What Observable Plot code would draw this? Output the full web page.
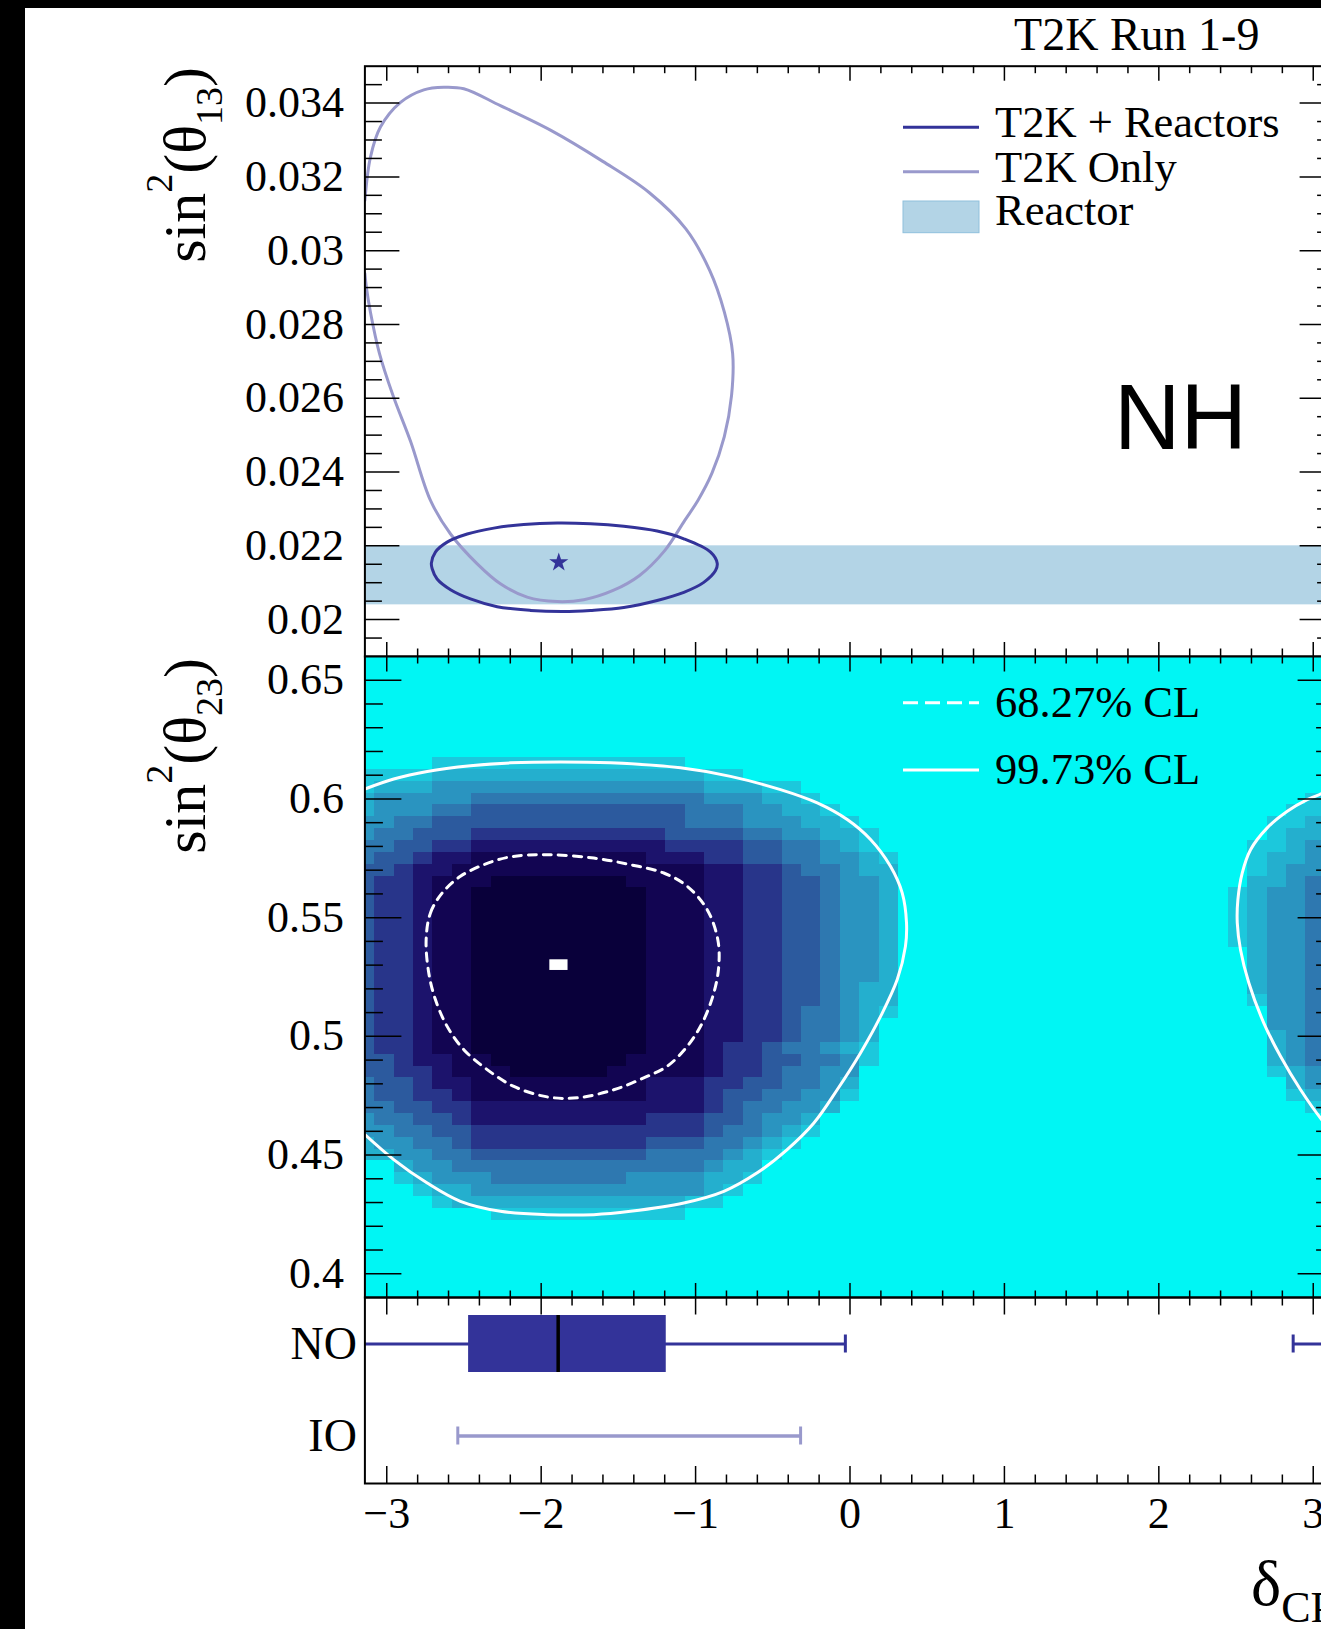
<!DOCTYPE html>
<html>
<head>
<meta charset="utf-8">
<script src="https://cdn.jsdelivr.net/npm/d3@7"></script>
<script src="https://cdn.jsdelivr.net/npm/@observablehq/plot@0.6"></script>
<style>
  html, body { margin: 0; padding: 0; background: #000; width: 1321px; height: 1629px; overflow: hidden; }
  #page { position: absolute; left: 25px; top: 8px; width: 1340px; height: 1621px; background: #fff; }
  #page svg { display: block; max-width: none !important; }
</style>
</head>
<body>
<div id="page"></div>
<script>
const PI = Math.PI;
const serif = "'Liberation Serif', 'Times New Roman', serif";
const sans = "'Liberation Sans', Arial, sans-serif";

// ---------- ticks & labels ----------
const dcpMajor = [-3, -2, -1, 0, 1, 2, 3];
const dcpLabels = ["\u22123", "\u22122", "\u22121", "0", "1", "2", "3"];
const s13Major = [0.02, 0.022, 0.024, 0.026, 0.028, 0.03, 0.032, 0.034];
const s13Labels = ["0.02", "0.022", "0.024", "0.026", "0.028", "0.03", "0.032", "0.034"];
const s23Major = [0.4, 0.45, 0.5, 0.55, 0.6, 0.65];
const s23Labels = ["0.4", "0.45", "0.5", "0.55", "0.6", "0.65"];
const dcpMinor = d3.range(-15, 16).map(k => k / 5).filter(v => Math.abs(v - Math.round(v)) > 1e-9);
const s13Minor = d3.range(39, 70).filter(k => k % 4 !== 0).map(k => k / 2000);
const s23Minor = d3.range(40, 66).filter(k => k % 5 !== 0).map(k => k / 100);

// ---------- top panel: sin^2(theta13) vs dCP ----------
const reactorBand = [0.0204, 0.0220];
const bestFit13 = [-1.886, 0.02155];
const t2kOnly = [[-3.1416,0.03136],[-3.106,0.03253],[-3.041,0.03335],[-2.911,0.03402],[-2.760,0.03436],[-2.631,0.03443],[-2.501,0.03439],[-2.264,0.03393],[-1.937,0.03326],[-1.601,0.03242],[-1.299,0.03157],[-1.063,0.03059],[-0.908,0.02946],[-0.814,0.02834],[-0.760,0.02721],[-0.767,0.02608],[-0.814,0.02496],[-0.894,0.02397],[-0.985,0.02323],[-1.070,0.02269],[-1.200,0.02187],[-1.365,0.02119],[-1.534,0.02079],[-1.724,0.02054],[-1.896,0.02049],[-2.091,0.02061],[-2.264,0.02097],[-2.414,0.02151],[-2.587,0.02232],[-2.717,0.02323],[-2.845,0.02482],[-2.960,0.02608],[-3.047,0.02721],[-3.106,0.02834],[-3.132,0.02901],[-3.1416,0.02938]];
const t2kReactors = [[-2.711,0.02153],[-2.685,0.02183],[-2.609,0.02210],[-2.479,0.02232],[-2.307,0.02248],[-2.113,0.02258],[-1.896,0.02262],[-1.681,0.02260],[-1.465,0.02253],[-1.249,0.02240],[-1.076,0.02219],[-0.903,0.02183],[-0.860,0.02153],[-0.871,0.02133],[-0.947,0.02101],[-1.076,0.02074],[-1.249,0.02052],[-1.465,0.02033],[-1.681,0.02025],[-1.854,0.02022],[-2.069,0.02025],[-2.285,0.02035],[-2.458,0.02056],[-2.587,0.02081],[-2.674,0.02110],[-2.706,0.02138]];

// ---------- middle panel: sin^2(theta23) vs dCP ----------
const cl68 = [[-2.745,0.5407],[-2.717,0.5520],[-2.641,0.5604],[-2.523,0.5674],[-2.372,0.5723],[-2.199,0.5756],[-1.961,0.5765],[-1.659,0.5751],[-1.422,0.5723],[-1.206,0.5688],[-1.054,0.5632],[-0.925,0.5534],[-0.856,0.5407],[-0.850,0.5295],[-0.882,0.5183],[-0.957,0.5056],[-1.054,0.4958],[-1.184,0.4874],[-1.336,0.4825],[-1.530,0.4775],[-1.767,0.4741],[-1.961,0.4745],[-2.177,0.4789],[-2.350,0.4860],[-2.501,0.4944],[-2.609,0.5042],[-2.685,0.5155],[-2.728,0.5267]];
const cl997Left = [[-3.1416,0.6042],[-2.955,0.6084],[-2.738,0.6116],[-2.458,0.6140],[-2.199,0.6152],[-1.875,0.6156],[-1.551,0.6152],[-1.098,0.6131],[-0.774,0.6095],[-0.450,0.6039],[-0.212,0.5983],[-0.018,0.5913],[0.133,0.5829],[0.262,0.5716],[0.338,0.5604],[0.366,0.5478],[0.359,0.5379],[0.306,0.5239],[0.198,0.5084],[0.068,0.4930],[-0.083,0.4775],[-0.234,0.4635],[-0.407,0.4523],[-0.601,0.4425],[-0.817,0.4347],[-1.076,0.4298],[-1.422,0.4263],[-1.659,0.4249],[-1.961,0.4249],[-2.264,0.4263],[-2.523,0.4305],[-2.738,0.4382],[-2.955,0.4481],[-3.1416,0.4586]];
const cl997Right = [[3.1416,0.6042],[3.054,0.6022],[2.961,0.5997],[2.832,0.5948],[2.702,0.5878],[2.594,0.5786],[2.540,0.5688],[2.512,0.5576],[2.508,0.5478],[2.529,0.5365],[2.583,0.5225],[2.680,0.5056],[2.788,0.4916],[2.918,0.4775],[3.054,0.4650],[3.1416,0.4586]];
const bestFit23 = [-1.885, 0.53];

// posterior density levels (0 = empty, 1..9 = light..dark), rows of sin^2(theta23) bin centres
const heatY = [0.615,0.61,0.605,0.6,0.595,0.59,0.585,0.58,0.575,0.57,0.565,0.56,0.555,0.55,0.545,0.54,0.535,0.53,0.525,0.52,0.515,0.51,0.505,0.5,0.495,0.49,0.485,0.48,0.475,0.47,0.465,0.46,0.455,0.45,0.445,0.44,0.435,0.43,0.425];
// dCP bins 0..27 (from -pi)
const heatLeft = [
  "00001 11111 11111 11000 00000 000",
  "11112 22222 22222 22211 00000 000",
  "12223 33333 33333 33322 21100 000",
  "23333 34444 44444 44433 32210 000",
  "23334 45555 55555 55444 33221 000",
  "33445 55555 55555 55444 33322 100",
  "34455 56666 66666 65555 44332 210",
  "44556 67777 77777 76666 55443 210",
  "45567 78888 88888 77766 55443 321",
  "55677 88888 88888 88877 66544 322",
  "56678 88999 99998 88877 66554 332",
  "56678 89999 99999 88877 66554 332",
  "56678 89999 99999 88877 66554 332",
  "56678 89999 99999 88877 66554 332",
  "56678 89999 99999 88877 66554 332",
  "56678 89999 99999 88877 66554 332",
  "56678 89999 99999 88877 66554 332",
  "56678 89999 99999 88877 66554 332",
  "56678 89999 99999 88877 66554 332",
  "56678 89999 99999 88877 66554 322",
  "56678 89999 99999 88877 66554 322",
  "56678 89999 99999 88877 66544 321",
  "56678 89999 99999 88877 66544 320",
  "56678 89999 99999 88877 66544 320",
  "56678 89999 99999 88876 65443 210",
  "55677 88999 99998 88876 65544 310",
  "55667 88899 99988 88876 65443 300",
  "45567 78888 88888 77766 55443 200",
  "45566 78888 88888 77765 54433 100",
  "44556 67777 77777 77765 44332 000",
  "34455 67777 77777 66655 43320 000",
  "33445 56666 66666 66654 43210 000",
  "23344 56666 66666 55544 32100 000",
  "22334 45555 55555 44443 21000 000",
  "00233 44444 44444 44432 20000 000",
  "00123 33444 44443 33322 10000 000",
  "00012 23333 33333 33321 00000 000",
  "00001 22222 22222 22110 00000 000",
  "00000 00111 11111 11000 00000 000"
];
// dCP bins 45..50 (towards +pi)
const heatRight = ["000000","000001","000001","000012","000112","001123","001223","011234","012234","012335","022345","123345","123345","123345","123345","123345","023345","023345","023345","023345","013345","003345","003345","002345","002345","002345","001235","000234","000124","000014","000003","000003","000002","000002","000000","000000","000000","000000","000000"];
const palette = [null, "#1cc8dc", "#24afce", "#2a94c0", "#2e78b0", "#2c5a9e", "#28358a", "#1c136c", "#120552", "#09003a"];

// ---------- bottom panel: credible intervals ----------
const orderings = ["NO", "IO"];
const noBox = {q1: -2.47, median: -1.89, q3: -1.19};
const noRanges = [[-3.1416, -0.03], [2.87, 3.1416]];
const noCaps = [-0.03, 2.87];
const ioRanges = [[-2.54, -0.32]];
const ioCaps = [-2.54, -0.32];

// ---------- layout ----------
const W = 1340, ML = 339.4, MR = 30.4, FW = W - ML - MR;
const cDark = "#333399", cLight = "#9999cc", cBand = "#b3d4e6", cCyan = "#00f6f4";
const legendSize = 44.5, tickSize = 44;

function frameTicks(H, o) {
  const tk = {stroke: "black", strokeWidth: 1.5};
  const m = [];
  if (o.top) m.push(
    Plot.tickX(dcpMajor, {x: d => d, insetBottom: H - o.top[0], ...tk}),
    Plot.tickX(dcpMinor, {x: d => d, insetBottom: H - o.top[1], ...tk}));
  if (o.bottom) m.push(
    Plot.tickX(dcpMajor, {x: d => d, insetTop: H - o.bottom[0], ...tk}),
    Plot.tickX(dcpMinor, {x: d => d, insetTop: H - o.bottom[1], ...tk}));
  if (o.yMaj) m.push(
    Plot.tickY(o.yMaj, {y: d => d, insetRight: FW - o.side[0], ...tk}),
    Plot.tickY(o.yMin, {y: d => d, insetRight: FW - o.side[1], ...tk}),
    Plot.tickY(o.yMaj, {y: d => d, insetLeft: FW - o.side[0], ...tk}),
    Plot.tickY(o.yMin, {y: d => d, insetLeft: FW - o.side[1], ...tk}));
  return m;
}

function addText(g, x, y, parts, {anchor = "start", size = legendSize, family = serif, rotate = 0} = {}) {
  const t = g.append("text")
    .attr("transform", `translate(${x},${y})` + (rotate ? ` rotate(${rotate})` : ""))
    .attr("text-anchor", anchor).attr("font-size", size).attr("font-family", family).attr("fill", "black");
  let cur = 0;
  for (const p of parts) {
    const s = typeof p === "string" ? {t: p} : p;
    const shift = s.shift || 0;
    const ts = t.append("tspan").text(s.t);
    if (shift !== cur) { ts.attr("dy", shift - cur); cur = shift; }
    if (s.size) ts.attr("font-size", s.size);
  }
  return t;
}

function yTitle(g, x, y, sub) {
  addText(g, x, y, ["sin", {t: "2", shift: -33, size: 38}, {t: "(\u03b8", shift: 0}, {t: sub, shift: 17, size: 38}, {t: ")", shift: 0}], {anchor: "end", size: 60, rotate: -90});
}

function legendLine(g, x0, x1, y, color, dash) {
  const l = g.append("line").attr("x1", x0).attr("x2", x1).attr("y1", y).attr("y2", y)
    .attr("stroke", color).attr("stroke-width", 3);
  if (dash) l.attr("stroke-dasharray", dash);
}

// ---------- top panel ----------
const topPlot = Plot.plot({
  width: W, height: 648, marginTop: 57.7, marginBottom: 0, marginLeft: ML, marginRight: MR,
  x: {domain: [-PI, PI], axis: null},
  y: {domain: [0.019, 0.035], axis: null},
  style: {fontFamily: serif, background: "transparent", overflow: "visible"},
  marks: [
    Plot.rect([reactorBand], {x1: () => -PI, x2: () => PI, y1: d => d[0], y2: d => d[1], fill: cBand}),
    Plot.line(t2kOnly, {x: d => d[0], y: d => d[1], curve: "catmull-rom", stroke: cLight, strokeWidth: 3, clip: true}),
    Plot.line(t2kReactors, {x: d => d[0], y: d => d[1], curve: "catmull-rom-closed", stroke: cDark, strokeWidth: 3}),
    Plot.dot([bestFit13], {x: d => d[0], y: d => d[1], symbol: "star", r: 6, fill: cDark, stroke: "none"}),
    ...frameTicks(648 - 57.7, {top: [15, 7.5], bottom: [14, 7.5], yMaj: s13Major, yMin: s13Minor, side: [35, 17.5]}),
    Plot.text(s13Major, {y: d => d, text: (d, i) => s13Labels[i], frameAnchor: "left", textAnchor: "end", dx: -21, fontSize: tickSize}),
    Plot.frame({stroke: "black", strokeWidth: 2}),
    (index, scales, values, dims) => {
      const g = d3.create("svg:g");
      const ox = dims.marginLeft, oy = dims.marginTop;
      yTitle(g, 180, 59, "13");
      addText(g, ox + 895, oy - 15.7, ["T2K Run 1-9"], {anchor: "end", size: 46});
      addText(g, ox + 882.6, oy + 383.3, ["NH"], {anchor: "end", size: 92, family: sans});
      legendLine(g, ox + 538.6, ox + 614.6, oy + 61.6, cDark);
      legendLine(g, ox + 538.6, ox + 614.6, oy + 106, cLight);
      g.append("rect").attr("x", ox + 538.6).attr("y", oy + 135.3).attr("width", 76).attr("height", 31.7)
        .attr("fill", cBand).attr("stroke", "#8fc0dc").attr("stroke-width", 1);
      addText(g, ox + 630.6, oy + 71, ["T2K + Reactors"]);
      addText(g, ox + 630.6, oy + 116, ["T2K Only"]);
      addText(g, ox + 630.6, oy + 159.3, ["Reactor"]);
      return g.node();
    }
  ]
});

// ---------- middle panel ----------
const nBins = 50, dBin = 2 * PI / nBins, dRow = 0.005;
const cells = [];
heatY.forEach((v, j) => {
  const row = heatLeft[j].replace(/\s/g, "") + "0".repeat(17) + heatRight[j];
  for (let i = 0; i < row.length; i++) {
    const lv = +row[i];
    if (!lv) continue;
    const c = -PI + i * dBin;
    cells.push({x1: Math.max(-PI, c - dBin / 2), x2: Math.min(PI, c + dBin / 2), y1: v - dRow / 2, y2: v + dRow / 2, fill: palette[lv]});
  }
});

const midPlot = Plot.plot({
  width: W, height: 641, marginTop: 0, marginBottom: 0, marginLeft: ML, marginRight: MR,
  x: {domain: [-PI, PI], axis: null},
  y: {domain: [0.39, 0.66], axis: null},
  color: {type: "identity"},
  style: {fontFamily: serif, background: "transparent", overflow: "visible"},
  marks: [
    Plot.frame({fill: cCyan, stroke: null}),
    Plot.rect(cells, {x1: "x1", x2: "x2", y1: "y1", y2: "y2", fill: "fill", shapeRendering: "crispEdges"}),
    Plot.rect([bestFit23], {x1: d => d[0] - dBin / 2, x2: d => d[0] + dBin / 2, y1: d => d[1] - dRow / 2, y2: d => d[1] + dRow / 2, fill: "white", inset: 0.6}),
    Plot.line(cl68, {x: d => d[0], y: d => d[1], curve: "catmull-rom-closed", stroke: "white", strokeWidth: 3, strokeDasharray: "8,7"}),
    Plot.line(cl997Left, {x: d => d[0], y: d => d[1], curve: "catmull-rom", stroke: "white", strokeWidth: 3, clip: true}),
    Plot.line(cl997Right, {x: d => d[0], y: d => d[1], curve: "catmull-rom", stroke: "white", strokeWidth: 3, clip: true}),
    ...frameTicks(641, {top: [15.5, 7.5], bottom: [14, 6.5], yMaj: s23Major, yMin: s23Minor, side: [37, 18.5]}),
    Plot.text(s23Major, {y: d => d, text: (d, i) => s23Labels[i], frameAnchor: "left", textAnchor: "end", dx: -21, fontSize: tickSize}),
    Plot.frame({stroke: "black", strokeWidth: 2}),
    (index, scales, values, dims) => {
      const g = d3.create("svg:g");
      const ox = dims.marginLeft, oy = dims.marginTop;
      yTitle(g, 180, oy + 2, "23");
      legendLine(g, ox + 538.6, ox + 614.6, oy + 46.7, "white", "15,7");
      legendLine(g, ox + 538.6, ox + 614.6, oy + 114, "white");
      addText(g, ox + 630.6, oy + 61.3, ["68.27% CL"]);
      addText(g, ox + 630.6, oy + 128, ["99.73% CL"]);
      return g.node();
    }
  ]
});

// ---------- bottom panel ----------
const botPlot = Plot.plot({
  width: W, height: 332, marginTop: 0, marginBottom: 146, marginLeft: ML, marginRight: MR,
  x: {domain: [-PI, PI], axis: null},
  y: {type: "band", domain: orderings, paddingInner: 0.38, paddingOuter: 0.2, axis: null},
  style: {fontFamily: serif, background: "transparent", overflow: "visible"},
  marks: [
    Plot.ruleY(noRanges, {y: () => "NO", x1: d => d[0], x2: d => d[1], stroke: cDark, strokeWidth: 3}),
    Plot.tickX(noCaps, {x: d => d, y: () => "NO", stroke: cDark, strokeWidth: 3, insetTop: 19.5, insetBottom: 19.5}),
    Plot.barX([noBox], {x1: "q1", x2: "q3", y: () => "NO", fill: cDark}),
    Plot.tickX([noBox], {x: "median", y: () => "NO", stroke: "black", strokeWidth: 3.5}),
    Plot.ruleY(ioRanges, {y: () => "IO", x1: d => d[0], x2: d => d[1], stroke: cLight, strokeWidth: 3.5}),
    Plot.tickX(ioCaps, {x: d => d, y: () => "IO", stroke: cLight, strokeWidth: 3, insetTop: 19.5, insetBottom: 19.5}),
    ...frameTicks(186, {top: [17.5, 8.5], bottom: [17, 8.5]}),
    Plot.text(orderings, {y: d => d, text: d => d, frameAnchor: "left", textAnchor: "end", dx: -8, fontSize: 46}),
    Plot.text(dcpMajor, {x: d => d, text: (d, i) => dcpLabels[i], frameAnchor: "bottom", lineAnchor: "top", dy: 13, fontSize: 44}),
    Plot.frame({stroke: "black", strokeWidth: 2}),
    (index, scales, values, dims) => {
      const g = d3.create("svg:g");
      const ox = dims.marginLeft;
      addText(g, ox + 886.6, 308, ["\u03b4", {t: "CP", shift: 17, size: 44}], {size: 64});
      return g.node();
    }
  ]
});

const page = document.getElementById("page");
page.append(topPlot, midPlot, botPlot);
</script>
</body>
</html>
